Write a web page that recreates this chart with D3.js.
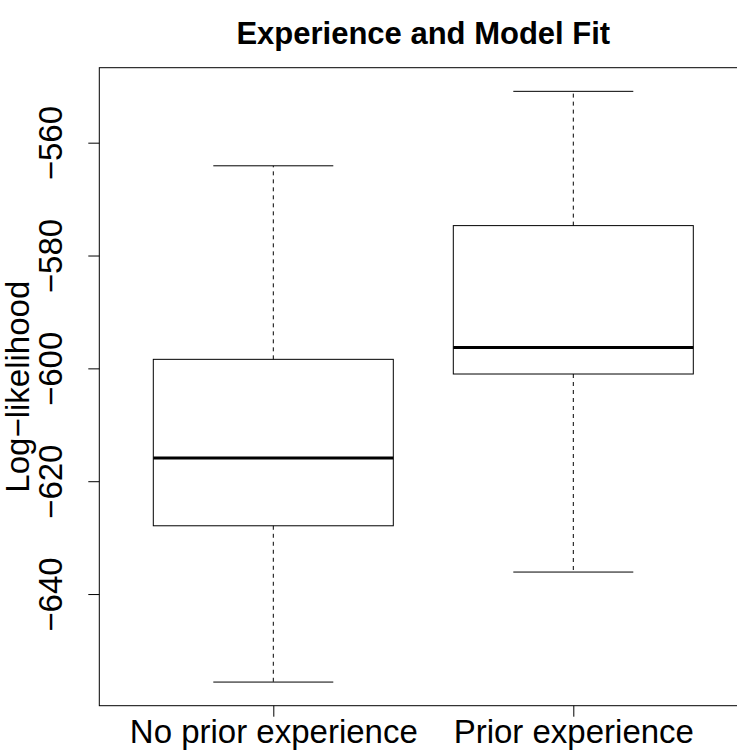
<!DOCTYPE html>
<html>
<head>
<meta charset="utf-8">
<script src="https://cdn.jsdelivr.net/npm/d3@7"></script>
<style>
  html, body { margin: 0; padding: 0; background: #fff; }
  svg { display: block; font-family: "Liberation Sans", Arial, Helvetica, sans-serif; }
</style>
</head>
<body>
<svg id="chart" width="737" height="750"></svg>
<script>
// Log-likelihood summaries per group (five-number boxplot stats)
const categories = ["No prior experience", "Prior experience"];
const whiskerLow = [-655.6, -636.1];
const q1 = [-627.9, -601.0];
const median = [-615.9, -596.3];
const q3 = [-598.4, -574.7];
const whiskerHigh = [-564.1, -550.9];
const yTicks = [-640, -620, -600, -580, -560];

const svg = d3.select("#chart");
const plot = { left: 99.3, top: 67.7, bottom: 705.7 };
const labelSize = "33px";

// x: group positions 1..n, padded like a base boxplot (0.5..n+0.5 plus 4%)
const nGroups = categories.length;
const xPad = 0.04 * nGroups;
const x = d3.scaleLinear()
  .domain([0.5 - xPad, nGroups + 0.5 + xPad])
  .range([plot.left, plot.left + 300 * (nGroups + 2 * xPad)]);

// y: data range of the whiskers, extended by 4% on each side
const yMin = d3.min(whiskerLow), yMax = d3.max(whiskerHigh);
const yExt = 0.04 * (yMax - yMin);
const y = d3.scaleLinear()
  .domain([yMin - yExt, yMax + yExt])
  .range([plot.bottom, plot.top]);

const ink = "#000";
const boxHalf = 0.4, capHalf = 0.2;

const groups = svg.append("g").selectAll("g")
  .data(categories.map((c, i) => ({
    c, pos: i + 1, lo: whiskerLow[i], q1: q1[i], med: median[i], q3: q3[i], hi: whiskerHigh[i]
  })))
  .join("g");

// dashed whiskers
groups.append("line")
  .attr("x1", d => x(d.pos)).attr("x2", d => x(d.pos))
  .attr("y1", d => y(d.q3)).attr("y2", d => y(d.hi))
  .attr("stroke", ink).attr("stroke-dasharray", "4,4");
groups.append("line")
  .attr("x1", d => x(d.pos)).attr("x2", d => x(d.pos))
  .attr("y1", d => y(d.q1)).attr("y2", d => y(d.lo))
  .attr("stroke", ink).attr("stroke-dasharray", "4,4");

// whisker caps
groups.append("line")
  .attr("x1", d => x(d.pos - capHalf)).attr("x2", d => x(d.pos + capHalf))
  .attr("y1", d => y(d.hi)).attr("y2", d => y(d.hi))
  .attr("stroke", ink);
groups.append("line")
  .attr("x1", d => x(d.pos - capHalf)).attr("x2", d => x(d.pos + capHalf))
  .attr("y1", d => y(d.lo)).attr("y2", d => y(d.lo))
  .attr("stroke", ink);

// boxes
groups.append("rect")
  .attr("x", d => x(d.pos - boxHalf))
  .attr("width", d => x(d.pos + boxHalf) - x(d.pos - boxHalf))
  .attr("y", d => y(d.q3))
  .attr("height", d => y(d.q1) - y(d.q3))
  .attr("fill", "none").attr("stroke", ink);

// medians
groups.append("line")
  .attr("x1", d => x(d.pos - boxHalf)).attr("x2", d => x(d.pos + boxHalf))
  .attr("y1", d => y(d.med)).attr("y2", d => y(d.med))
  .attr("stroke", ink).attr("stroke-width", 3);

// plot frame
svg.append("rect")
  .attr("x", x.range()[0]).attr("y", plot.top)
  .attr("width", x.range()[1] - x.range()[0])
  .attr("height", plot.bottom - plot.top)
  .attr("fill", "none").attr("stroke", ink);

// y axis: ticks with labels set parallel to the axis (baseline toward the axis)
const yAxis = svg.append("g")
  .attr("transform", `translate(${plot.left},0)`)
  .call(d3.axisLeft(y).tickValues(yTicks).tickSize(11).tickSizeOuter(0));
yAxis.select(".domain").remove();
yAxis.selectAll(".tick line").attr("stroke", ink);
yAxis.selectAll(".tick text")
  .attr("x", null).attr("dy", null)
  .attr("transform", "translate(-37,0) rotate(-90)")
  .attr("text-anchor", "middle")
  .attr("fill", ink)
  .style("font-size", labelSize)
  .style("font-family", "'Liberation Sans', Arial, sans-serif");

// x axis: one tick per group
const xAxis = svg.append("g")
  .attr("transform", `translate(0,${plot.bottom})`)
  .call(d3.axisBottom(x).tickValues(categories.map((c, i) => i + 1))
    .tickFormat((d, i) => categories[i]).tickSize(11).tickSizeOuter(0));
xAxis.select(".domain").remove();
xAxis.selectAll(".tick line").attr("stroke", ink);
xAxis.selectAll(".tick text")
  .attr("y", 37).attr("dy", null)
  .attr("fill", ink)
  .style("font-size", labelSize)
  .style("font-family", "'Liberation Sans', Arial, sans-serif");

// y-axis title
svg.append("text")
  .attr("transform", `translate(29,${(plot.top + plot.bottom) / 2}) rotate(-90)`)
  .attr("text-anchor", "middle")
  .style("font-size", labelSize)
  .text("Log\u2212likelihood");

// main title, centred on the plot region
svg.append("text")
  .attr("x", (x.range()[0] + x.range()[1]) / 2)
  .attr("y", 44)
  .attr("text-anchor", "middle")
  .style("font-size", "31px")
  .style("font-weight", "bold")
  .text("Experience and Model Fit");
</script>
</body>
</html>
